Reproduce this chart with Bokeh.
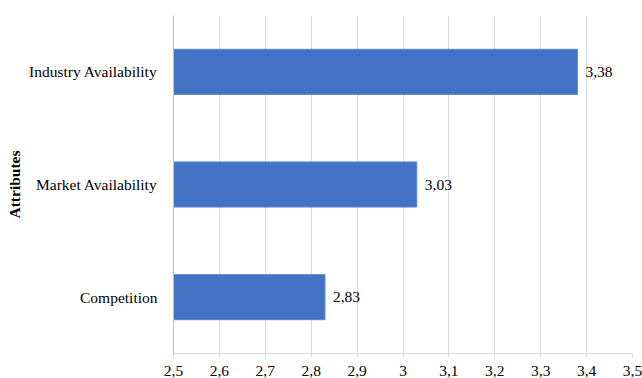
from bokeh.plotting import figure
from bokeh.models import ColumnDataSource, FactorRange, Range1d, FixedTicker, CustomJSTickFormatter, LabelSet
from bokeh.embed import file_html
from bokeh.resources import INLINE

categories = ["Competition", "Market Availability", "Industry Availability"]
values = [2.83, 3.03, 3.38]
x_ticks = [2.5, 2.6, 2.7, 2.8, 2.9, 3.0, 3.1, 3.2, 3.3, 3.4, 3.5]
y_title = "Attributes"

labels = [f"{v:.2f}".replace(".", ",") for v in values]
src = ColumnDataSource(dict(cat=categories, val=values, lab=labels))

FONT = "'Liberation Serif', 'Times New Roman', serif"
FS = "15.5px"

p = figure(
    y_range=FactorRange(*categories, range_padding=0),
    x_range=Range1d(2.5, 3.5),
    frame_width=459, frame_height=338,
    min_border_left=173, min_border_right=10, min_border_top=15, min_border_bottom=25,
    output_backend="svg", toolbar_location=None,
)

p.hbar(y="cat", right="val", left=2.5, height=0.4, source=src,
       fill_color="#4472C4", line_color="#5b86d0", line_width=1)

lbl = LabelSet(x="val", y="cat", text="lab", source=src, x_offset=8,
               text_baseline="middle", text_align="left",
               text_font=FONT, text_font_size=FS, text_color="#000000")
p.add_layout(lbl)

p.outline_line_color = None
p.background_fill_color = "white"
p.border_fill_color = "white"

# x axis
p.xaxis.ticker = FixedTicker(ticks=x_ticks)
p.xaxis.formatter = CustomJSTickFormatter(code="""
    let s = tick.toFixed(1);
    if (s.endsWith('.0')) s = s.slice(0, -2);
    return s.replace('.', ',');
""")
p.xaxis.major_label_text_font = FONT
p.xaxis.major_label_text_font_size = FS
p.xaxis.major_label_text_color = "#000000"
p.xaxis.axis_line_color = "#d9d9d9"
p.xaxis.major_tick_line_color = "#d9d9d9"
p.xaxis.major_tick_in = 0
p.xaxis.major_tick_out = 4
p.xaxis.minor_tick_line_color = None
p.xaxis.major_label_standoff = 8

# y axis
p.yaxis.axis_label = y_title
p.yaxis.axis_label_text_font = FONT
p.yaxis.axis_label_text_font_style = "bold"
p.yaxis.axis_label_text_font_size = FS
p.yaxis.axis_label_text_color = "#000000"
p.yaxis.axis_label_standoff = 3
p.yaxis.major_label_text_font = FONT
p.yaxis.major_label_text_font_size = FS
p.yaxis.major_label_text_color = "#000000"
p.yaxis.axis_line_color = "#bfbfbf"
p.yaxis.major_tick_line_color = None
p.yaxis.major_label_standoff = 10

p.xgrid.grid_line_color = "#d9d9d9"
p.xgrid.ticker = FixedTicker(ticks=x_ticks)
p.ygrid.grid_line_color = None

open("out.html", "w").write(file_html(p, INLINE))
